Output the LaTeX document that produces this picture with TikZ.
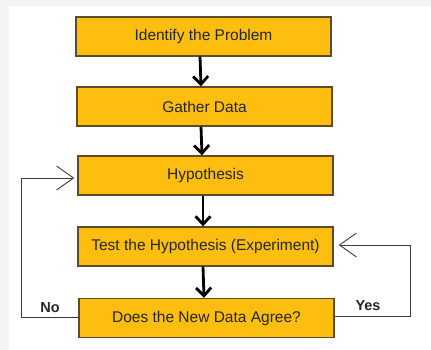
\documentclass[tikz,border=0pt]{standalone}
\usepackage{fontspec}
\setmainfont{Liberation Sans}
\usetikzlibrary{arrows.meta}

\definecolor{boxfill}{RGB}{253, 190, 16}
\definecolor{boxline}{RGB}{92, 76, 44}
\definecolor{pagegray}{RGB}{243, 244, 246}
\definecolor{loopline}{RGB}{60, 60, 60}

\tikzset{
    stepbox/.style={draw=boxline, fill=boxfill, line width=1.4pt,
        minimum width=255pt, minimum height=39pt, inner sep=0pt,
        font=\fontsize{15.5}{18}\selectfont, text=black!85},
    down arrow/.style={line width=2.8pt, -{Straight Barb[length=8pt,width=15pt]}},
    loop arrow/.style={draw=loopline, line width=0.9pt,
        -{Straight Barb[length=17pt,width=24pt]}},
    answer/.style={font=\bfseries\fontsize{14.5}{17}\selectfont, text=black!85}
}

\begin{document}
\begin{tikzpicture}[x=1pt,y=-1pt]
    % Background
    \fill[pagegray] (0,0) rectangle (431,350);
    \fill[white] (9,6) rectangle (431,350);
    \useasboundingbox (0,0) rectangle (431,350);

    % Steps
    \node[stepbox] (identify) at (203.5,36.5) {Identify the Problem};
    \node[stepbox] (gather)   at (204.5,106.5) {Gather Data};
    \node[stepbox] (hypo)     at (205.5,175.5) {Hypothesis};
    \node[stepbox] (test)     at (205.5,246.5) {Test the Hypothesis (Experiment)};
    \node[stepbox] (agree)    at (206.5,318) {Does the New Data Agree?};

    % Arrows between steps
    \draw[down arrow] ([xshift=-3.5pt]identify.south) -- ([xshift=-3.5pt]gather.north);
    \draw[down arrow] ([xshift=-3.5pt]gather.south) -- ([xshift=-3.5pt]hypo.north);
    \draw[down arrow] ([xshift=-2.5pt]hypo.south) -- ([xshift=-2.5pt]test.north);
    \draw[down arrow] ([xshift=-2.5pt]test.south) -- ([xshift=-2.5pt]agree.north);

    % Feedback loops
    \draw[loop arrow, shorten >=3pt] ([yshift=1pt]agree.west) -- ++(-57,0)
        |- ([yshift=-2.5pt]hypo.west);
    \draw[loop arrow, shorten >=5pt] ([yshift=2pt]agree.east) -- ++(76,0)
        |- ([yshift=1.5pt]test.east);

    % Labels
    \node[answer] (no)  at (50,308) {No};
    \node[answer] (yes) at (368,306) {Yes};
\end{tikzpicture}
\end{document}
